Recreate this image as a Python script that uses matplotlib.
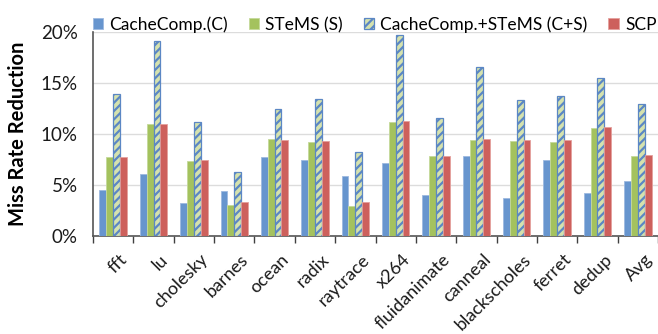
import matplotlib
matplotlib.use("Agg")
import matplotlib.pyplot as plt
import matplotlib.transforms as mtransforms
import numpy as np

plt.rcParams['font.family'] = ['Lato', 'DejaVu Sans']
plt.rcParams['hatch.linewidth'] = 1.6

categories = ["fft", "lu", "cholesky", "barnes", "ocean", "radix", "raytrace",
              "x264", "fluidanimate", "canneal", "blackscholes", "ferret", "dedup", "Avg"]
cachecomp = [4.5, 6.1, 3.25, 4.4, 7.75, 7.45, 5.85, 7.15, 4.0, 7.85, 3.75, 7.45, 4.25, 5.4]
stems = [7.7, 11.0, 7.4, 3.0, 9.5, 9.2, 2.95, 11.2, 7.8, 9.4, 9.35, 9.2, 10.55, 7.8]
combined = [13.95, 19.1, 11.15, 6.3, 12.45, 13.4, 8.2, 19.7, 11.6, 16.6, 13.3, 13.7, 15.45, 12.9]
scp = [7.75, 11.0, 7.5, 3.35, 9.45, 9.35, 3.35, 11.3, 7.85, 9.5, 9.4, 9.45, 10.7, 7.95]
yticks = [0, 5, 10, 15, 20]

blue = "#6795CE"
green = "#A4C25E"
red = "#CD605C"
light_green = "#D5E2AE"

fig = plt.figure(figsize=(6.58, 3.34), dpi=100)
ax = fig.add_axes([93/658, 1 - 236/334, (658 - 93)/658, (236 - 32)/334])

x = np.arange(len(categories))
w = 0.17
ax.bar(x - 1.5*w, cachecomp, w, color=blue, edgecolor="#9DB9E0", linewidth=0.6,
       label="CacheComp.(C)", zorder=3)
ax.bar(x - 0.5*w, stems, w, color=green, edgecolor="#C5D99A", linewidth=0.6,
       label="STeMS (S)", zorder=3)
ax.bar(x + 0.5*w, combined, w, color=light_green, edgecolor="#6D97CF", linewidth=0.9,
       hatch="////", label="CacheComp.+STeMS (C+S)", zorder=3)
ax.bar(x + 1.5*w, scp, w, color=red, edgecolor="#E4A09D", linewidth=0.6,
       label="SCP", zorder=3)
for p in ax.patches:
    if p.get_hatch():
        p.set_edgecolor("#5B87C4")

ax.set_xlim(-0.5, len(categories) - 0.5)
ax.set_ylim(0, 20)
ax.set_yticks(yticks)
ax.set_yticklabels([f"{v}%" for v in yticks], fontsize=13.5, color="#1a1a1a")
ax.yaxis.grid(True, color="#DCDCDC", linewidth=1.0, zorder=0)
ax.tick_params(axis="y", length=0, pad=11)

ax.set_xticks(x)
ax.set_xticklabels(categories, rotation=45, ha="right", rotation_mode="anchor",
                   fontsize=13, color="#1a1a1a")
ax.tick_params(axis="x", length=0, pad=11)
shift = mtransforms.ScaledTranslation(6/100, 0, fig.dpi_scale_trans)
for lbl in ax.get_xticklabels():
    lbl.set_transform(lbl.get_transform() + shift)
ax.set_xticks(np.arange(-0.5, len(categories), 1.0), minor=True)
ax.tick_params(axis="x", which="minor", length=5, color="#404040", width=1.0)

for s in ["top", "right"]:
    ax.spines[s].set_visible(False)
for s in ["left", "bottom"]:
    ax.spines[s].set_color("#555555")
    ax.spines[s].set_linewidth(1.2)

ax.set_ylabel("Miss Rate Reduction", fontsize=14.5, fontweight="bold", labelpad=9)

ax.legend(loc="lower left", bbox_to_anchor=(0.0, 0.995), ncol=4, frameon=False,
          fontsize=12.5, handlelength=0.6, handleheight=0.6, handletextpad=0.35,
          columnspacing=1.2, borderaxespad=0, borderpad=0)

fig.savefig("out.png", dpi=100)
